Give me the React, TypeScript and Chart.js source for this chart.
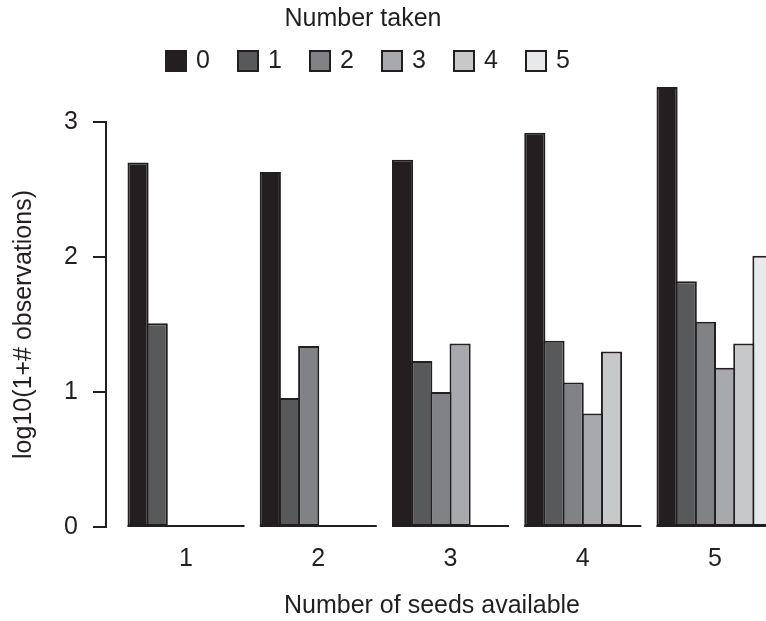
import React, { useEffect, useRef } from "react";
import { Chart, registerables } from "chart.js";

Chart.register(...registerables);

const FONT = "'Liberation Sans', Arial, Helvetica, sans-serif";
const TEXT = "#231f20";
const EDGE = "#231f20";

const seedsAvailable = [1, 2, 3, 4, 5];
const numberTakenLabels = ["0", "1", "2", "3", "4", "5"];
const taken0 = [2.7, 2.63, 2.72, 2.92, 3.26];
const taken1 = [1.51, 0.955, 1.23, 1.38, 1.82];
const taken2 = [0, 1.34, 1.0, 1.07, 1.52];
const taken3 = [0, 0, 1.36, 0.84, 1.18];
const taken4 = [0, 0, 0, 1.3, 1.36];
const taken5 = [0, 0, 0, 0, 2.01];
const seriesValues = [taken0, taken1, taken2, taken3, taken4, taken5];
const seriesColors = ["#231f20", "#58595b", "#808285", "#a7a9ac", "#c7c8ca", "#e8e9ea"];
const yTickValues = [0, 1, 2, 3];

const legendTitle = "Number taken";
const xTitle = "Number of seeds available";
const yTitle = "log10(1+# observations)";

const legendPlugin = {
  id: "rLegend",
  afterDraw(chart: any) {
    const ctx = chart.ctx;
    ctx.save();
    ctx.font = `25px ${FONT}`;
    ctx.fillStyle = TEXT;
    ctx.textAlign = "center";
    ctx.textBaseline = "middle";
    ctx.fillText(legendTitle, 363, 19);
    chart.data.datasets.forEach((ds: any, i: number) => {
      const bx = 165 + i * 72;
      const by = 50;
      ctx.fillStyle = EDGE;
      ctx.fillRect(bx, by, 22, 22);
      ctx.fillStyle = ds.backgroundColor;
      ctx.fillRect(bx + 2, by + 2, 18, 18);
      ctx.fillStyle = TEXT;
      ctx.textAlign = "left";
      ctx.fillText(ds.label, bx + 31, by + 11);
    });
    ctx.restore();
  },
};

const baselinePlugin = {
  id: "groupBaseline",
  afterDatasetsDraw(chart: any) {
    const ctx = chart.ctx;
    const n = chart.data.datasets.length;
    const first = chart.getDatasetMeta(0);
    const last = chart.getDatasetMeta(n - 1);
    const y = chart.scales.y.getPixelForValue(0);
    ctx.save();
    ctx.fillStyle = EDGE;
    first.data.forEach((b: any, i: number) => {
      const e = last.data[i];
      const left = b.x - b.width / 2;
      const right = e.x + e.width / 2;
      ctx.fillRect(left, y - 2, right - left, 2);
    });
    ctx.restore();
  },
};

export default function App() {
  const ref = useRef<HTMLCanvasElement | null>(null);

  useEffect(() => {
    if (!ref.current) return;
    const chart = new Chart(ref.current, {
      type: "bar",
      data: {
        datasets: seriesValues.map((vals, k) => ({
          label: numberTakenLabels[k],
          data: seedsAvailable.map((s, i) => ({ x: s, y: vals[i] })),
          backgroundColor: seriesColors[k],
          borderColor: EDGE,
          borderWidth: 2,
          borderSkipped: false,
          clip: false as any,
          categoryPercentage: 0.87,
          barPercentage: 1.104,
        })),
      },
      options: {
        responsive: false,
        animation: false,
        devicePixelRatio: 1,
        layout: { padding: { top: 122, right: 8, left: 0, bottom: 0 } },
        plugins: {
          legend: { display: false },
          tooltip: { enabled: false },
          title: { display: false },
        },
        scales: {
          x: {
            type: "linear",
            offset: false,
            min: 0.395,
            max: 5.325,
            grid: { display: false, offset: false },
            border: { display: false },
            afterBuildTicks(scale: any) {
              scale.ticks = seedsAvailable.map((v) => ({ value: v }));
            },
            afterFit(scale: any) {
              scale.height = 94;
            },
            ticks: {
              font: { family: FONT, size: 25 },
              color: TEXT,
              padding: 9,
              callback: (v: any) => String(v),
            },
            title: {
              display: true,
              text: xTitle,
              font: { family: FONT, size: 25 },
              color: TEXT,
              padding: { top: 0, bottom: 0 },
            },
          },
          y: {
            min: 0,
            max: 3,
            afterBuildTicks(scale: any) {
              scale.ticks = yTickValues.map((v) => ({ value: v }));
            },
            afterFit(scale: any) {
              scale.width = 106;
            },
            grid: {
              display: true,
              drawOnChartArea: false,
              drawTicks: true,
              tickLength: 13,
              lineWidth: 2,
              color: EDGE,
            },
            border: { display: true, width: 2, color: EDGE },
            ticks: {
              font: { family: FONT, size: 25 },
              color: TEXT,
              padding: 15,
              callback: (v: any) => String(v),
            },
            title: {
              display: true,
              text: yTitle,
              font: { family: FONT, size: 25 },
              color: TEXT,
              padding: { top: 9, bottom: 0 },
            },
          },
        },
      },
      plugins: [baselinePlugin, legendPlugin],
    });
    return () => chart.destroy();
  }, []);

  return (
    <div style={{ position: "fixed", left: 0, top: 0, width: 766, height: 621, overflow: "hidden", background: "#fff" }}>
      <canvas ref={ref} width={766} height={621} style={{ display: "block" }} />
    </div>
  );
}
